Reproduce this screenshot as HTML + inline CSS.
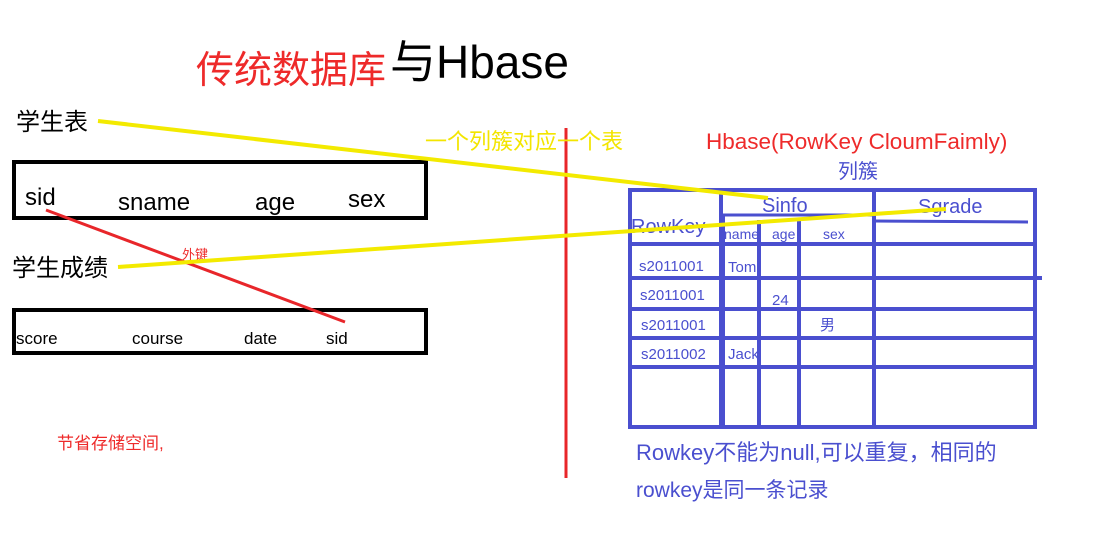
<!DOCTYPE html>
<html><head><meta charset="utf-8"><style>
html,body{margin:0;padding:0;background:#fff;width:1107px;height:540px;overflow:hidden}
svg text{font-family:"Liberation Sans","Noto Sans CJK SC",sans-serif}
</style></head><body>
<svg width="1107" height="540" viewBox="0 0 1107 540" xmlns="http://www.w3.org/2000/svg">
<!-- title -->
<text x="196" y="83" font-size="38" fill="#ee2a2a">传统数据库</text>
<text x="390" y="78" font-size="46" fill="#000">与Hbase</text>
<!-- left labels -->
<text x="16" y="130" font-size="24" fill="#000">学生表</text>
<text x="12" y="276" font-size="24" fill="#000">学生成绩</text>
<rect x="14" y="162" width="412" height="56" fill="none" stroke="#000" stroke-width="4"/>
<text x="25" y="205" font-size="24" fill="#000">sid</text>
<text x="118" y="210" font-size="24" fill="#000">sname</text>
<text x="255" y="210" font-size="24" fill="#000">age</text>
<text x="348" y="207" font-size="24" fill="#000">sex</text>
<rect x="14" y="310" width="412" height="43" fill="none" stroke="#000" stroke-width="4"/>
<text x="16" y="344" font-size="17" fill="#000">score</text>
<text x="132" y="344" font-size="17" fill="#000">course</text>
<text x="244" y="344" font-size="17" fill="#000">date</text>
<text x="326" y="344" font-size="17" fill="#000">sid</text>
<text x="182" y="259" font-size="13" fill="#ee2a2a">外键</text>
<text x="57" y="449" font-size="17" fill="#ee2a2a">节省存储空间,</text>
<!-- red lines -->
<line x1="46" y1="210" x2="345" y2="322" stroke="#e8262a" stroke-width="3"/>
<line x1="566" y1="128" x2="566" y2="478" stroke="#e8262a" stroke-width="3"/>
<!-- right texts -->
<text x="425" y="149" font-size="22" fill="#f3e500">一个列簇对应一个表</text>
<text x="706" y="149" font-size="22.5" fill="#ee2a2a">Hbase(RowKey CloumFaimly)</text>
<text x="838" y="178" font-size="20" fill="#4a4fcf">列簇</text>
<!-- table -->
<g stroke="#4a4fcf" stroke-width="4" fill="none">
<rect x="630" y="190" width="405" height="237"/>
<line x1="721" y1="190" x2="721" y2="427"/>
<line x1="724" y1="214" x2="724" y2="427" stroke-width="2"/>
<line x1="759" y1="220" x2="759" y2="427"/>
<line x1="799" y1="220" x2="799" y2="427"/>
<line x1="874" y1="190" x2="874" y2="427"/>
<line x1="722" y1="215" x2="872" y2="215" stroke-width="3"/>
<line x1="874" y1="221" x2="1028" y2="222" stroke-width="3"/>
<line x1="630" y1="244" x2="1035" y2="244"/>
<line x1="630" y1="278" x2="1042" y2="278"/>
<line x1="630" y1="309" x2="1035" y2="309"/>
<line x1="630" y1="338" x2="1035" y2="338"/>
<line x1="630" y1="367" x2="1035" y2="367"/>
</g>
<g fill="#4a4fcf">
<text x="631" y="233" font-size="20">RowKey</text>
<text x="762" y="212" font-size="20">Sinfo</text>
<text x="918" y="213" font-size="20">Sgrade</text>
<text x="724" y="239" font-size="14">name</text>
<text x="772" y="239" font-size="14">age</text>
<text x="823" y="239" font-size="14">sex</text>
<text x="639" y="271" font-size="15">s2011001</text>
<text x="728" y="272" font-size="15">Tom</text>
<text x="640" y="300" font-size="15">s2011001</text>
<text x="772" y="305" font-size="15">24</text>
<text x="641" y="330" font-size="15">s2011001</text>
<text x="820" y="330" font-size="15">男</text>
<text x="641" y="359" font-size="15">s2011002</text>
<text x="728" y="359" font-size="15">Jack</text>
<text x="636" y="460" font-size="22">Rowkey不能为null,可以重复，相同的</text>
<text x="636" y="497" font-size="21">rowkey是同一条记录</text>
</g>
<!-- yellow lines -->
<line x1="98" y1="121" x2="768" y2="198" stroke="#f3ea00" stroke-width="4"/>
<line x1="118" y1="267" x2="946" y2="209" stroke="#f3ea00" stroke-width="4"/>
</svg>
</body></html>
